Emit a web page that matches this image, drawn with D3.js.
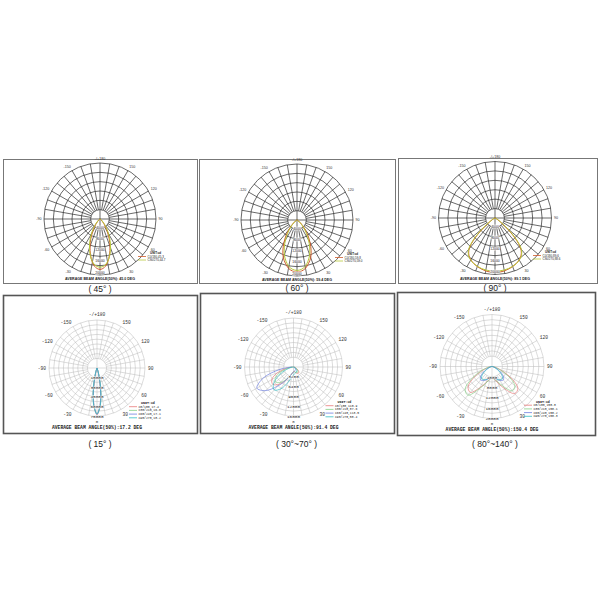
<!DOCTYPE html>
<html><head><meta charset="utf-8">
<script src="https://cdn.jsdelivr.net/npm/d3@7/dist/d3.min.js"></script>
<style>body{margin:0;background:#fff}svg{display:block}</style>
</head><body>
<svg id="c" width="600" height="600"></svg>
<script>
// ---------------- DATA ----------------
const angleTickValues = [0, 30, 60, 90, 120, 150, 180, -150, -120, -90, -60, -30];
const angleTickLabels = ["0", "30", "60", "90", "120", "150", "-/+180", "-150", "-120", "-90", "-60", "-30"];
const captions = ["( 45° )", "( 60° )", "( 90° )", "( 15° )", "( 30°~70° )", "( 80°~140° )"];
const titles = [
  "AVERAGE BEAM ANGLE(50%): 45.0 DEG",
  "AVERAGE BEAM ANGLE(50%): 59.4 DEG",
  "AVERAGE BEAM ANGLE(50%): 89.1 DEG",
  "AVERAGE BEAM ANGLE(50%):17.2 DEG",
  "AVERAGE BEAM ANGLE(50%):91.4 DEG",
  "AVERAGE BEAM ANGLE(50%):150.4 DEG"
];
const unitLabel = "UNIT:cd";

// gamma angles (deg from nadir)
const gamma5 = [-90,-85,-80,-75,-70,-65,-60,-55,-50,-45,-40,-35,-30,-25,-20,-15,-10,-5,0,5,10,15,20,25,30,35,40,45,50,55,60,65,70,75,80,85,90];
const gamma10 = [-90,-80,-70,-60,-50,-40,-30,-20,-10,0,10,20,30,40,50,60,70,80,90];

// ring values
const rings45 = [4000, 8000, 12000, 16000, 20000];
const rings60 = [4000, 8000, 12000, 16000, 20000];
const rings90 = [4000, 8000, 12000, 16000, 20000];
const rings15 = [15000, 30000, 45000, 60000, 75000];
const rings3070 = [3200, 6400, 9600, 12800, 16000];
const rings80140 = [4000, 8000, 12000, 16000, 20000];

// legends
const legend45 = ["C0/180,45.3", "C90/270,44.7"];
const legend60 = ["C0/180,59.8", "C90/270,59.0"];
const legend90 = ["C0/180,89.6", "C90/270,88.6"];
const legend15 = ["C0/180,17.4", "C30/210,16.0", "C60/240,17.1", "C90/270,18.2"];
const legend3070 = ["C0/180,110.9", "C30/210,87.6", "C60/240,113.5", "C90/270,58.4"];
const legend80140 = ["C0/180,150.8", "C30/210,150.1", "C60/240,150.2", "C90/270,150.3"];

// candela values
const cd45_C0 = [0,4,8,15,30,60,130,280,580,1100,2000,3400,5300,7700,10400,13200,15700,17400,18000,17400,15700,13200,10400,7700,5300,3400,2000,1100,580,280,130,60,30,15,8,4,0];
const cd45_C90 = [0,4,8,15,35,80,180,400,800,1500,2600,4100,6100,8500,11000,13400,15500,16800,17200,16800,15500,13400,11000,8500,6100,4100,2600,1500,800,400,180,80,35,15,8,4,0];
const cd60_C0 = [0,5,15,40,90,190,370,750,1500,2800,4650,6900,9300,11900,14300,16000,17500,18300,18600,18300,17500,16000,14300,11900,9300,6900,4650,2800,1500,750,370,190,90,40,15,5,0];
const cd60_C90 = [0,4,10,25,60,140,300,600,1200,2300,3900,5900,8200,10700,13200,15200,16800,17700,18000,17700,16800,15200,13200,10700,8200,5900,3900,2300,1200,600,300,140,60,25,10,4,0];
const cd90_C0 = [0,3,10,30,100,290,770,1900,4800,10000,14200,16100,17100,17800,18300,18700,19000,19200,19200,19200,19000,18700,18300,17800,17100,16100,14200,10000,4800,1900,770,290,100,30,10,3,0];
const cd90_C90 = [0,4,12,40,120,350,900,2200,5400,10600,14500,16300,17200,17800,18200,18500,18700,18800,18800,18800,18700,18500,18200,17800,17200,16300,14500,10600,5400,2200,900,350,120,40,12,4,0];

const cd15_C0 = [0,0,0,0,0,0,0,0,0,0,0,0,150,400,1500,8500,29000,57500,73000,57500,29500,8800,1500,400,150,0,0,0,0,0,0,0,0,0,0,0,0];
const cd15_C30 = [0,0,0,0,0,0,0,0,0,0,0,0,180,500,2000,10000,31000,58000,72000,58500,31000,10200,1900,500,180,0,0,0,0,0,0,0,0,0,0,0,0];
const cd15_C60 = [0,0,0,0,0,0,0,0,0,0,0,0,150,450,1700,9000,30000,57000,72500,57000,30000,9200,1700,450,150,0,0,0,0,0,0,0,0,0,0,0,0];
const cd15_C90 = [0,0,0,0,0,0,0,0,0,0,0,0,200,600,2400,11500,33000,59000,71500,59000,33000,11500,2400,600,200,0,0,0,0,0,0,0,0,0,0,0,0];

const cd3070_C0 = [300,2200,5600,8200,8800,7400,5000,3000,1900,1500,1500,1900,2400,2600,2200,1400,700,250,0];
const cd3070_C30 = [200,1500,4200,6800,7600,6600,4700,3000,2000,1600,1600,1800,2100,2200,1800,1100,500,150,0];
const cd3070_C60 = [600,4500,10500,13800,12000,8200,5000,3000,2000,1600,1400,1300,1200,1000,700,400,200,60,0];
const cd3070_C90 = [100,800,2500,5500,8500,9800,8200,5400,3400,2600,2200,2000,1900,1700,1300,800,400,100,0];

const cd80140_C0 = [0,800,3000,7500,12000,13000,9500,6500,5000,4500,5000,6800,10000,13600,13000,8000,3000,800,0];
const cd80140_C30 = [0,1000,3800,8500,13500,14400,10000,6800,5000,4500,4800,6200,9000,12200,11500,7000,2600,700,0];
const cd80140_C60 = [0,300,1200,3200,5600,6800,6200,5200,4600,4300,4600,5200,6200,6800,5600,3200,1200,300,0];
const cd80140_C90 = [0,200,900,2500,4800,6200,5900,5100,4500,4400,4500,5100,5900,6200,4800,2500,900,200,0];

// ---------------- STYLE / LAYOUT ----------------
const topColors = ["#cf5a2a", "#b7c93a"];
const botColors = ["#e77a7a", "#86cf86", "#6f7fe0", "#35bcc4"];

const svg = d3.select("#c");
const rad = Math.PI / 180;

const panels = [
  {frame:[3,159,194,124], cx:100, cy:219, R:56, rings:rings45, legend:legend45, series:[cd45_C0,cd45_C90], g:gamma5, colors:topColors, title:titles[0], cap:captions[0], capY:292, kind:"top"},
  {frame:[199,159,196,124], cx:297, cy:220, R:56, rings:rings60, legend:legend60, series:[cd60_C0,cd60_C90], g:gamma5, colors:topColors, title:titles[1], cap:captions[1], capY:291, kind:"top"},
  {frame:[398,158,199,125], cx:495, cy:218, R:56.5, rings:rings90, legend:legend90, series:[cd90_C0,cd90_C90], g:gamma5, colors:topColors, title:titles[2], cap:captions[2], capY:291, kind:"top"},
  {frame:[3,295,194,138], cx:97, cy:368, R:48, rings:rings15, legend:legend15, series:[cd15_C0,cd15_C30,cd15_C60,cd15_C90], g:gamma5, colors:botColors, title:titles[3], cap:captions[3], capY:447, kind:"bot"},
  {frame:[200,293,194,140], cx:293.5, cy:367, R:49, rings:rings3070, legend:legend3070, series:[cd3070_C0,cd3070_C30,cd3070_C60,cd3070_C90], g:gamma10, colors:botColors, title:titles[4], cap:captions[4], capY:447, kind:"bot"},
  {frame:[397,292,198,143], cx:492, cy:366.5, R:52, rings:rings80140, legend:legend80140, series:[cd80140_C0,cd80140_C30,cd80140_C60,cd80140_C90], g:gamma10, colors:botColors, title:titles[5], cap:captions[5], capY:447, kind:"bot"}
];

panels.forEach(p => drawPanel(p));

function drawPanel(p) {
  const top = p.kind === "top";
  const [fx, fy, fw, fh] = p.frame;
  svg.append("rect").attr("x", fx + 0.5).attr("y", fy + 0.5).attr("width", fw).attr("height", fh)
    .attr("fill", "#fff").attr("stroke", top ? "#777" : "#555").attr("stroke-width", top ? 1 : 1.6);

  const g = svg.append("g").attr("transform", `translate(${p.cx},${p.cy})`);
  const max = p.rings[p.rings.length - 1];
  const r = d3.scaleLinear().domain([0, max]).range([0, p.R]);
  const gridColor = top ? "#2a2a2a" : "#b8b8b8";
  const gridW = top ? 0.7 : 0.5;
  const step = top ? max / 6 : max / 10;
  const ringVals = top ? d3.range(1, 7).map(k => k * step) : d3.range(2, 11).map(k => k * step);
  g.selectAll("circle.ring").data(ringVals).join("circle")
    .attr("r", d => r(d)).attr("fill", "none").attr("stroke", gridColor).attr("stroke-width", gridW);
  const r0 = r(ringVals[0]);
  const spokes = d3.range(0, 360, 10);
  g.selectAll("line.spoke").data(spokes).join("line")
    .attr("x1", d => (d % 90 === 0 ? 0 : r0) * Math.sin(d * rad))
    .attr("y1", d => (d % 90 === 0 ? 0 : r0) * Math.cos(d * rad))
    .attr("x2", d => p.R * Math.sin(d * rad))
    .attr("y2", d => p.R * Math.cos(d * rad))
    .attr("stroke", gridColor).attr("stroke-width", gridW);

  // angle labels
  const fs = top ? 3.6 : 4.6;
  const font = top ? "Liberation Sans, Arial, sans-serif" : "Liberation Mono, monospace";
  angleTickValues.forEach((a, i) => {
    if (a === 0 && top) return;
    const lr = p.R + (top ? 2.5 : 3);
    const x = lr * Math.sin(a * rad), y = lr * Math.cos(a * rad);
    let anchor = "middle";
    if (x > 1) anchor = "start"; else if (x < -1) anchor = "end";
    let dy = fs * 0.35;
    if (Math.abs(a) === 180) dy = -1;
    else if (a === 0) dy = fs - 1;
    else if (Math.abs(a) > 90) dy = 0;
    else if (Math.abs(a) < 90) dy = fs * 0.8;
    g.append("text").attr("x", x).attr("y", y + dy).attr("text-anchor", anchor)
      .attr("font-family", font).attr("font-size", a === 0 ? 4 : fs).attr("fill", "#333").text(angleTickLabels[i]);
  });

  // series curves
  const line = d3.lineRadial()
    .angle(d => Math.PI - d[0] * rad)
    .radius(d => r(d[1]))
    .curve(d3.curveCatmullRom.alpha(0.5));
  p.series.forEach((s, si) => {
    const pts = p.g.map((ga, k) => [ga, s[k]]);
    g.append("path").attr("d", line(pts)).attr("fill", "none")
      .attr("stroke", p.colors[si]).attr("stroke-width", top ? 1 : 0.7);
  });

  // ring labels along nadir
  p.rings.forEach(v => {
    g.append("text").attr("x", 0).attr("y", r(v) - (top ? 1.5 : -1.6)).attr("text-anchor", "middle")
      .attr("font-family", font).attr("font-size", top ? 3.4 : 4.4)
      .attr("fill", "#222").attr("stroke", "#fff").attr("stroke-width", 0.9)
      .attr("paint-order", "stroke").text(v);
  });

  // title
  svg.append("text").attr("x", p.cx).attr("y", top ? p.cy + p.R + 5 : fy + fh - 4.5)
    .attr("text-anchor", "middle").attr("font-family", font).attr("font-weight", "bold")
    .attr("font-size", top ? 3.6 : 4.7).attr("fill", "#222").text(p.title);

  // legend
  const lx = top ? p.cx + 38 : p.cx + 32;
  const ly = top ? p.cy + 35 : p.cy + 36;
  const lh = top ? 3.5 : 3.7;
  svg.append("text").attr("x", lx + 12).attr("y", ly).attr("font-family", font)
    .attr("font-size", top ? 3 : 3.3).attr("font-weight", "bold").attr("fill", "#222").text(unitLabel);
  p.legend.forEach((t, i) => {
    const y = ly + (i + 1) * lh;
    svg.append("line").attr("x1", lx).attr("x2", lx + 8).attr("y1", y - 1).attr("y2", y - 1)
      .attr("stroke", p.colors[i]).attr("stroke-width", 0.8);
    svg.append("text").attr("x", lx + 9.5).attr("y", y).attr("font-family", font)
      .attr("font-size", top ? 3 : 3.1).attr("fill", "#222").text(t);
  });

  // caption
  svg.append("text").attr("x", p.cx + (p.kind === "bot" ? 3 : 0)).attr("y", p.capY).attr("text-anchor", "middle")
    .attr("font-family", "Liberation Sans, Arial, sans-serif").attr("font-size", 8.5).attr("fill", "#222").text(p.cap);
}
</script>
</body></html>
